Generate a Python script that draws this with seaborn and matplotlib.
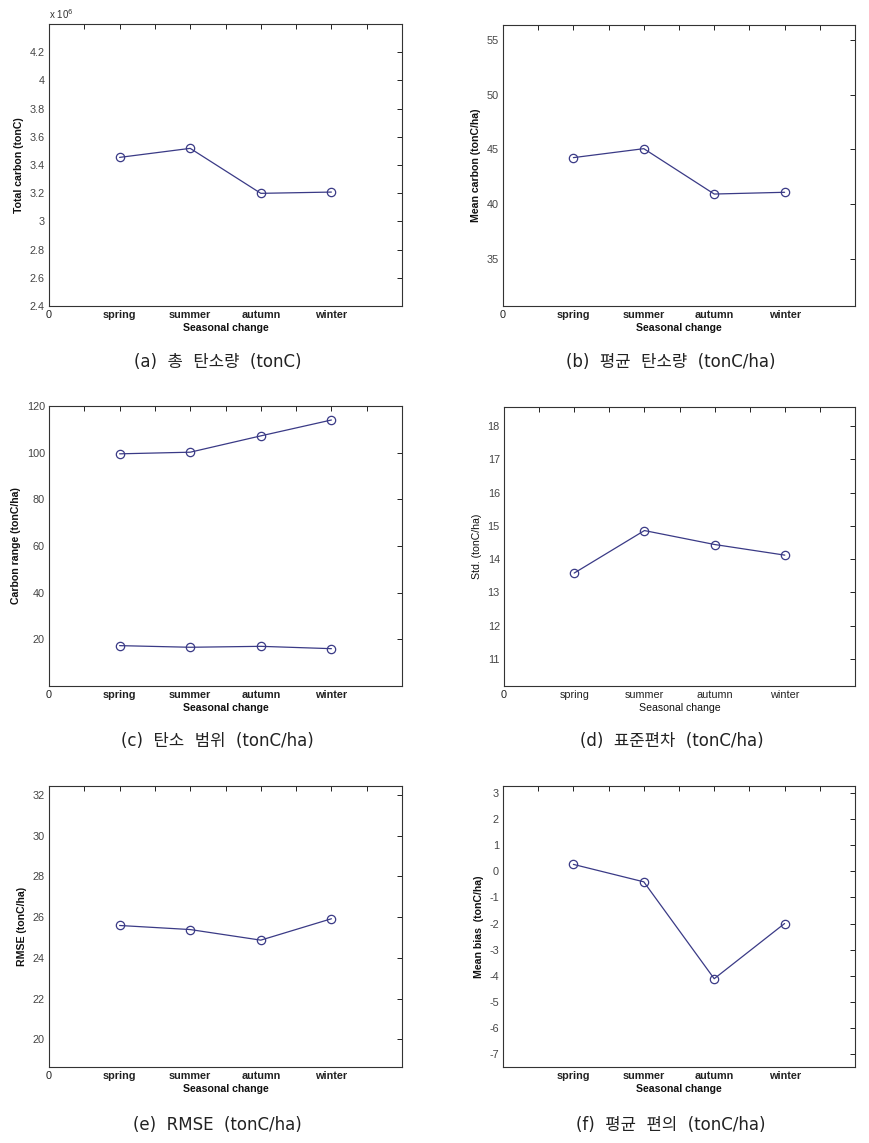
import matplotlib
matplotlib.use("Agg")
import matplotlib.pyplot as plt
import seaborn as sns
import pandas as pd

# seasonal carbon statistics
seasons = ["spring", "summer", "autumn", "winter"]
season_pos = [1, 2, 3, 4]

total_carbon = [3.454e6, 3.518e6, 3.199e6, 3.208e6]   # tonC
mean_carbon = [44.24, 45.06, 40.91, 41.07]            # tonC/ha
range_max = [99.5, 100.2, 107.2, 114.0]
range_min = [17.3, 16.6, 17.0, 16.0]
std_carbon = [13.58, 14.86, 14.44, 14.12]
rmse = [25.59, 25.39, 24.87, 25.92]
mean_bias = [0.27, -0.40, -4.12, -2.00]

captions = ["(a)  총  탄소량  (tonC)", "(b)  평균  탄소량  (tonC/ha)",
            "(c)  탄소  범위  (tonC/ha)", "(d)  표준편차  (tonC/ha)",
            "(e)  RMSE  (tonC/ha)", "(f)  평균  편의  (tonC/ha)"]
ylabels = ["Total carbon (tonC)", "Mean carbon (tonC/ha)",
           "Carbon range (tonC/ha)", "Std. (tonC/ha)",
           "RMSE (tonC/ha)", "Mean bias  (tonC/ha)"]

sns.set_style("white")
plt.rcParams["font.family"] = ["Liberation Sans", "DejaVu Sans"]
plt.rcParams["axes.unicode_minus"] = False

W, H = 870, 1143
fig = plt.figure(figsize=(8.7, 11.43), dpi=100)

LINE = "#3a3a86"


def make_ax(left, top, right, bottom):
    return fig.add_axes([left / W, (H - bottom) / H, (right - left) / W, (bottom - top) / H])


# pixel boxes of the six axes
boxes = [(49, 24, 402, 306), (503, 25, 855, 306),
         (49, 406, 402, 686), (504, 407, 855, 686),
         (49, 786, 402, 1067), (503, 786, 855, 1067)]
cap_y = [362, 362, 741, 741, 1125, 1125]

series = [[total_carbon], [mean_carbon], [range_max, range_min],
          [std_carbon], [rmse], [mean_bias]]
scales = [1e6, 1, 1, 1, 1, 1]
ylims = [(2.4, 4.4), (30.67, 56.37), (0, 120), (10.18, 18.58), (18.64, 32.44), (-7.51, 3.28)]
yticks = [[2.4, 2.6, 2.8, 3.0, 3.2, 3.4, 3.6, 3.8, 4.0, 4.2],
          [35, 40, 45, 50, 55],
          [20, 40, 60, 80, 100, 120],
          [11, 12, 13, 14, 15, 16, 17, 18],
          [20, 22, 24, 26, 28, 30, 32],
          [-7, -6, -5, -4, -3, -2, -1, 0, 1, 2, 3]]
bold = [True, True, True, False, True, True]
show_zero = [True, True, True, True, True, False]

xt = [i * 0.5 for i in range(11)]

for i, box in enumerate(boxes):
    ax = make_ax(*box)
    for vals in series[i]:
        df = pd.DataFrame({"x": season_pos, "y": [v / scales[i] for v in vals]})
        sns.lineplot(data=df, x="x", y="y", ax=ax, color=LINE, lw=0.9,
                     marker="o", markersize=6, markerfacecolor="none",
                     markeredgecolor=LINE, markeredgewidth=0.9)
    ax.set_xlim(0, 5)
    ax.set_ylim(*ylims[i])
    ax.set_xticks(xt)
    labs = ["0" if show_zero[i] else "", "", "spring", "", "summer", "",
            "autumn", "", "winter", "", ""]
    ax.set_xticklabels(labs)
    ax.set_yticks(yticks[i])
    if i == 0:
        ax.set_yticklabels(["2.4", "2.6", "2.8", "3", "3.2", "3.4", "3.6", "3.8", "4", "4.2"])
    fw = "bold" if bold[i] else "normal"
    ax.tick_params(direction="in", length=3.5, width=0.7, top=True, right=True,
                   labelsize=7.8, colors="#222222", pad=3)
    ax.tick_params(axis="y", labelcolor="#444444")
    for t in ax.get_xticklabels():
        if t.get_text() != "0":
            t.set_fontweight(fw)
    ax.set_xlabel("Seasonal change", fontsize=7.6, fontweight=fw, labelpad=2, color="#111111")
    ax.set_ylabel(ylabels[i], fontsize=7.6, fontweight=fw, labelpad=4, color="#111111")
    for s in ax.spines.values():
        s.set_color("#333333")
        s.set_linewidth(0.8)
    if i == 0:
        ax.text(0.0, 1.012, r"x 10$^6$", transform=ax.transAxes, fontsize=7,
                color="#333333", ha="left", va="bottom")
    cx = (box[0] + box[2]) / 2 - 8
    fig.text(cx / W, 1 - cap_y[i] / H, captions[i], ha="center", va="center",
             fontsize=12, color="#222222", family=["DejaVu Sans", "Noto Sans CJK KR"])

fig.savefig("out.png", dpi=100, facecolor="white")
